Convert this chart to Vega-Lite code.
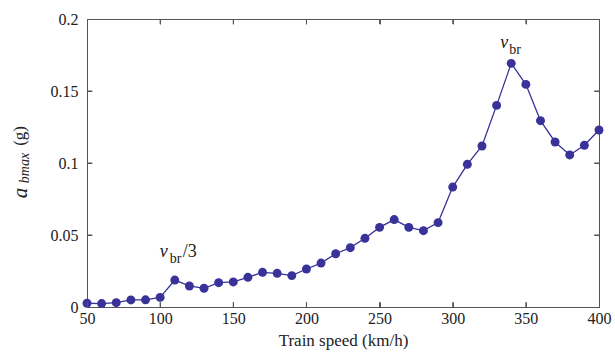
{
  "$schema": "https://vega.github.io/schema/vega-lite/v6.json",
  "width": 512,
  "height": 288,
  "autosize": "none",
  "padding": {"left": 87, "top": 19, "right": 16, "bottom": 57},
  "background": "white",
  "config": {
    "view": {"stroke": "#555555", "strokeWidth": 1},
    "font": "Liberation Serif"
  },
  "datasets": {
    "curve": [
      {"speed": 50, "a": 0.0026},
      {"speed": 60, "a": 0.0024},
      {"speed": 70, "a": 0.003},
      {"speed": 80, "a": 0.0049},
      {"speed": 90, "a": 0.005},
      {"speed": 100, "a": 0.0067},
      {"speed": 110, "a": 0.0187},
      {"speed": 120, "a": 0.0146},
      {"speed": 130, "a": 0.013},
      {"speed": 140, "a": 0.0169},
      {"speed": 150, "a": 0.0174},
      {"speed": 160, "a": 0.0206},
      {"speed": 170, "a": 0.0241},
      {"speed": 180, "a": 0.0234},
      {"speed": 190, "a": 0.0218},
      {"speed": 200, "a": 0.0264},
      {"speed": 210, "a": 0.0305},
      {"speed": 220, "a": 0.037},
      {"speed": 230, "a": 0.0412},
      {"speed": 240, "a": 0.0477},
      {"speed": 250, "a": 0.0553},
      {"speed": 260, "a": 0.0607},
      {"speed": 270, "a": 0.0553},
      {"speed": 280, "a": 0.053},
      {"speed": 290, "a": 0.0586},
      {"speed": 300, "a": 0.0833},
      {"speed": 310, "a": 0.0991},
      {"speed": 320, "a": 0.1118},
      {"speed": 330, "a": 0.14},
      {"speed": 340, "a": 0.1692},
      {"speed": 350, "a": 0.1546},
      {"speed": 360, "a": 0.1294},
      {"speed": 370, "a": 0.1146},
      {"speed": 380, "a": 0.1056},
      {"speed": 390, "a": 0.1123},
      {"speed": 400, "a": 0.1229}
    ],
    "xt": [{"v": 100}, {"v": 150}, {"v": 200}, {"v": 250}, {"v": 300}, {"v": 350}],
    "yt": [{"v": 0.05}, {"v": 0.1}, {"v": 0.15}],
    "one": [{"k": 1}]
  },
  "resolve": {"axis": {"x": "independent", "y": "independent"}},
  "layer": [
    {
      "data": {"name": "curve"},
      "mark": {"type": "line", "color": "#383299", "strokeWidth": 1.3},
      "encoding": {
        "x": {
          "field": "speed", "type": "quantitative",
          "scale": {"domain": [50, 400], "nice": false, "zero": false},
          "axis": {"orient": "bottom", "values": [50, 100, 150, 200, 250, 300, 350, 400], "domain": false, "grid": false, "ticks": true, "tickSize": 5, "offset": -5, "tickColor": "#555555", "tickWidth": 1, "zindex": 1, "labelPadding": 3, "labelFont": "Liberation Serif", "labelFontSize": 16, "labelColor": "#222222", "labelFlush": false, "title": "Train speed (km/h)", "titleFont": "Liberation Serif", "titleFontWeight": "normal", "titleColor": "#222222", "titleFontSize": 17, "titlePadding": 6}
        },
        "y": {
          "field": "a", "type": "quantitative",
          "scale": {"domain": [0, 0.2], "nice": false},
          "axis": {"orient": "left", "values": [0, 0.05, 0.1, 0.15, 0.2], "format": ".2~f", "domain": false, "grid": false, "ticks": true, "tickSize": 5, "offset": -5, "tickColor": "#555555", "tickWidth": 1, "zindex": 1, "labelPadding": 9, "labelFont": "Liberation Serif", "labelFontSize": 16, "labelColor": "#222222", "title": null}
        }
      }
    },
    {
      "data": {"name": "curve"},
      "mark": {"type": "point", "filled": true, "color": "#383299", "size": 80, "opacity": 1},
      "encoding": {
        "x": {"field": "speed", "type": "quantitative",
          "axis": {"orient": "top", "values": [50, 100, 150, 200, 250, 300, 350, 400], "domain": false, "grid": false, "ticks": true, "tickSize": 5, "offset": -5, "tickColor": "#555555", "tickWidth": 1, "zindex": 1, "labels": false, "title": null}},
        "y": {"field": "a", "type": "quantitative",
          "axis": {"orient": "right", "values": [0, 0.05, 0.1, 0.15, 0.2], "domain": false, "grid": false, "ticks": true, "tickSize": 5, "offset": -5, "tickColor": "#555555", "tickWidth": 1, "zindex": 1, "labels": false, "title": null}}
      }
    },
    {
      "data": {"name": "xt"},
      "mark": {"type": "rule", "color": "#555555", "strokeWidth": 1},
      "encoding": {
        "x": {"field": "v", "type": "quantitative", "axis": null},
        "y": {"datum": 0, "type": "quantitative", "axis": null},
        "y2": {"datum": 0.0035}
      }
    },
    {
      "data": {"name": "xt"},
      "mark": {"type": "rule", "color": "#555555", "strokeWidth": 1},
      "encoding": {
        "x": {"field": "v", "type": "quantitative", "axis": null},
        "y": {"datum": 0.2, "type": "quantitative", "axis": null},
        "y2": {"datum": 0.1965}
      }
    },
    {
      "data": {"name": "yt"},
      "mark": {"type": "rule", "color": "#555555", "strokeWidth": 1},
      "encoding": {
        "y": {"field": "v", "type": "quantitative", "axis": null},
        "x": {"datum": 50, "type": "quantitative", "axis": null},
        "x2": {"datum": 53.4}
      }
    },
    {
      "data": {"name": "yt"},
      "mark": {"type": "rule", "color": "#555555", "strokeWidth": 1},
      "encoding": {
        "y": {"field": "v", "type": "quantitative", "axis": null},
        "x": {"datum": 400, "type": "quantitative", "axis": null},
        "x2": {"datum": 396.6}
      }
    },
    {
      "data": {"name": "one"},
      "mark": {"type": "text", "text": "v", "font": "Liberation Serif", "fontStyle": "italic", "fontSize": 18, "align": "left", "baseline": "alphabetic", "dx": -11, "color": "#222222"},
      "encoding": {
        "x": {"datum": 340, "type": "quantitative", "axis": null},
        "y": {"datum": 0.18, "type": "quantitative", "axis": null}
      }
    },
    {
      "data": {"name": "one"},
      "mark": {"type": "text", "text": "br", "font": "Liberation Serif", "fontSize": 14, "align": "left", "baseline": "alphabetic", "dx": -2, "dy": 6, "color": "#222222"},
      "encoding": {
        "x": {"datum": 340, "type": "quantitative", "axis": null},
        "y": {"datum": 0.18, "type": "quantitative", "axis": null}
      }
    },
    {
      "data": {"name": "one"},
      "mark": {"type": "text", "text": "v", "font": "Liberation Serif", "fontStyle": "italic", "fontSize": 18, "align": "left", "baseline": "alphabetic", "dx": -15, "color": "#222222"},
      "encoding": {
        "x": {"datum": 110, "type": "quantitative", "axis": null},
        "y": {"datum": 0.035, "type": "quantitative", "axis": null}
      }
    },
    {
      "data": {"name": "one"},
      "mark": {"type": "text", "text": "br", "font": "Liberation Serif", "fontSize": 14, "align": "left", "baseline": "alphabetic", "dx": -5, "dy": 6, "color": "#222222"},
      "encoding": {
        "x": {"datum": 110, "type": "quantitative", "axis": null},
        "y": {"datum": 0.035, "type": "quantitative", "axis": null}
      }
    },
    {
      "data": {"name": "one"},
      "mark": {"type": "text", "text": "/3", "font": "Liberation Serif", "fontSize": 18, "align": "left", "baseline": "alphabetic", "dx": 8, "color": "#222222"},
      "encoding": {
        "x": {"datum": 110, "type": "quantitative", "axis": null},
        "y": {"datum": 0.035, "type": "quantitative", "axis": null}
      }
    },
    {
      "data": {"name": "one"},
      "mark": {"type": "text", "text": "a", "font": "Liberation Serif", "fontStyle": "italic", "fontSize": 21, "align": "center", "baseline": "middle", "angle": 270, "dy": -66, "color": "#222222"},
      "encoding": {
        "x": {"datum": 50, "type": "quantitative", "axis": null},
        "y": {"datum": 0.0792, "type": "quantitative", "axis": null}
      }
    },
    {
      "data": {"name": "one"},
      "mark": {"type": "text", "text": "bmax", "font": "Liberation Serif", "fontStyle": "italic", "fontSize": 14, "align": "center", "baseline": "middle", "angle": 270, "dy": -62, "color": "#222222"},
      "encoding": {
        "x": {"datum": 50, "type": "quantitative", "axis": null},
        "y": {"datum": 0.0965, "type": "quantitative", "axis": null}
      }
    },
    {
      "data": {"name": "one"},
      "mark": {"type": "text", "text": "(g)", "font": "Liberation Serif", "fontSize": 17, "align": "center", "baseline": "middle", "angle": 270, "dy": -67, "color": "#222222"},
      "encoding": {
        "x": {"datum": 50, "type": "quantitative", "axis": null},
        "y": {"datum": 0.1188, "type": "quantitative", "axis": null}
      }
    }
  ]
}
